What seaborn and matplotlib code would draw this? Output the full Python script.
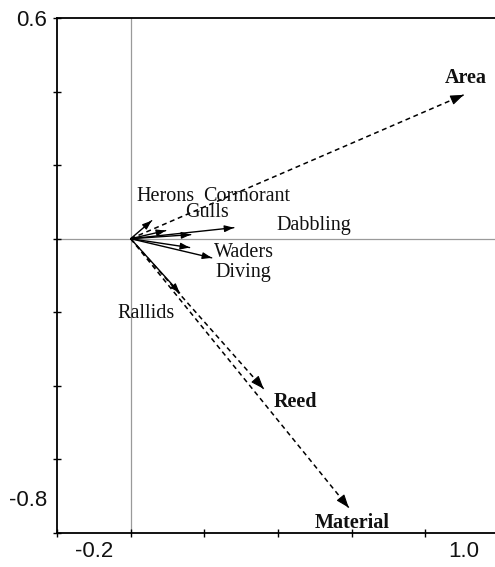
import numpy as np
import pandas as pd
import matplotlib
matplotlib.use("Agg")
import matplotlib.pyplot as plt
import seaborn as sns

# ---- data ----
species = ["Herons", "Cormorant", "Gulls", "Dabbling", "Waders", "Diving", "Rallids"]
species_x = [0.057, 0.163, 0.095, 0.280, 0.220, 0.160, 0.133]
species_y = [0.049, 0.011, 0.022, 0.030, -0.052, -0.024, -0.147]

env_vars = ["Area", "Reed", "Material"]
env_x = [0.904, 0.361, 0.592]
env_y = [0.391, -0.408, -0.731]

x_tick_labels = ["-0.2", "1.0"]
y_tick_labels = ["0.6", "-0.8"]

# ---- layout (label placement) ----
species_label_pos = {
    "Herons": (0.095, 0.114), "Cormorant": (0.316, 0.114), "Gulls": (0.206, 0.071),
    "Dabbling": (0.497, 0.035), "Waders": (0.309, -0.038), "Diving": (0.307, -0.092),
    "Rallids": (0.042, -0.204),
}
env_label_pos = {"Area": (0.909, 0.438), "Reed": (0.448, -0.443), "Material": (0.602, -0.772)}

sns.set_style("white")
plt.rcParams["font.family"] = ["Liberation Serif", "DejaVu Serif"]

fig = plt.figure(figsize=(4.95, 5.67), dpi=100)
ax = fig.add_axes([57 / 495, 34 / 567, 442 / 495, 515 / 567])

rows = []
for n, x, y in zip(species, species_x, species_y):
    rows += [dict(name=n, kind="species", x=0.0, y=0.0, step=0), dict(name=n, kind="species", x=x, y=y, step=1)]
for n, x, y in zip(env_vars, env_x, env_y):
    rows += [dict(name=n, kind="env", x=0.0, y=0.0, step=0), dict(name=n, kind="env", x=x, y=y, step=1)]
df = pd.DataFrame(rows)

sp = df[df.kind == "species"]
ev = df[df.kind == "env"]
sns.lineplot(data=sp, x="x", y="y", units="name", estimator=None, sort=False,
             color="black", lw=1.0, ax=ax, legend=False)
sns.lineplot(data=ev, x="x", y="y", units="name", estimator=None, sort=False,
             color="black", lw=1.1, ax=ax, legend=False, linestyle=(0, (3.2, 2.4)))

# arrow heads
for x, y in zip(species_x, species_y):
    L = np.hypot(x, y)
    ux, uy = x / L, y / L
    ax.annotate("", xy=(x, y), xytext=(x - 0.012 * ux, y - 0.012 * uy),
                arrowprops=dict(arrowstyle="-|>,head_length=0.55,head_width=0.2",
                                color="black", lw=0.9, shrinkA=0, shrinkB=0))
for x, y in zip(env_x, env_y):
    L = np.hypot(x, y)
    ux, uy = x / L, y / L
    ax.annotate("", xy=(x, y), xytext=(x - 0.02 * ux, y - 0.02 * uy),
                arrowprops=dict(arrowstyle="-|>,head_length=0.8,head_width=0.3",
                                color="black", lw=0.8, shrinkA=0, shrinkB=0))

for n in species:
    lx, ly = species_label_pos[n]
    ax.text(lx, ly, n, ha="center", va="center", fontsize=14.5, color="#111111")
for n in env_vars:
    lx, ly = env_label_pos[n]
    ax.text(lx, ly, n, ha="center", va="center", fontsize=14.5, fontweight="bold", color="#111111")

# zero lines
ax.axhline(0, color="#9a9a9a", lw=0.9, zorder=0)
ax.axvline(0, color="#9a9a9a", lw=0.9, zorder=0)

ax.set_xlim(-0.2, 1.0)
ax.set_ylim(-0.8, 0.6)
ax.set_xticks(np.arange(-0.2, 1.01, 0.2))
ax.set_yticks(np.arange(-0.8, 0.61, 0.2))
ax.set_xticklabels([])
ax.set_yticklabels([])
ax.tick_params(direction="inout", length=6, width=1.0, color="black",
               bottom=True, left=True, top=False, right=False)
for s in ["left", "bottom", "top", "right"]:
    ax.spines[s].set_color("black")
    ax.spines[s].set_linewidth(1.3)
ax.set_xlabel("")
ax.set_ylabel("")

tick_font = dict(family=["Liberation Sans", "DejaVu Sans"], fontsize=16, color="#111111")
ax.text(-0.227, 0.593, y_tick_labels[0], ha="right", va="center", clip_on=False, **tick_font)
ax.text(-0.227, -0.712, y_tick_labels[1], ha="right", va="center", clip_on=False, **tick_font)
ax.text(-0.099, -0.851, x_tick_labels[0], ha="center", va="center", clip_on=False, **tick_font)
ax.text(0.904, -0.851, x_tick_labels[1], ha="center", va="center", clip_on=False, **tick_font)

fig.savefig("out.png", dpi=100)
